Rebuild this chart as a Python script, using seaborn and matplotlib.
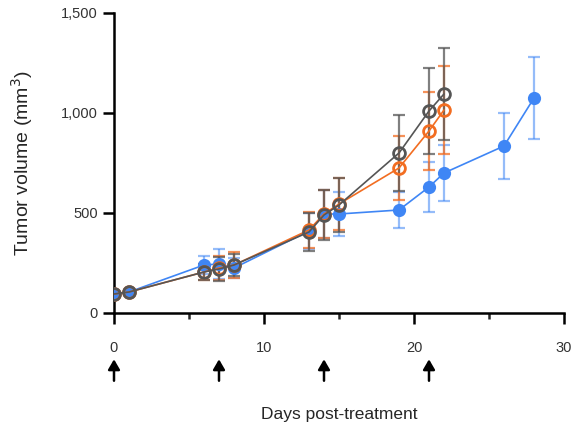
import matplotlib
matplotlib.use("Agg")
import matplotlib.pyplot as plt
import seaborn as sns
import pandas as pd
from matplotlib.ticker import FuncFormatter, MultipleLocator

# ---- data ----
days_blue = [0, 1, 6, 7, 8, 13, 14, 15, 19, 21, 22, 26, 28]
blue_mean = [95, 105, 240, 245, 225, 410, 495, 495, 515, 630, 700, 835, 1075]
blue_err = [10, 10, 45, 75, 50, 90, 120, 110, 90, 125, 140, 165, 205]

days_other = [0, 1, 6, 7, 8, 13, 14, 15, 19, 21, 22]
orange_mean = [95, 105, 205, 225, 240, 415, 495, 545, 725, 910, 1015]
orange_err = [10, 10, 40, 60, 65, 90, 120, 130, 160, 195, 220]
grey_mean = [95, 105, 205, 220, 240, 405, 490, 540, 800, 1010, 1095]
grey_err = [10, 10, 40, 60, 55, 95, 125, 135, 190, 215, 230]

treatment_days = [0, 7, 14, 21]

BLUE = "#3f86f5"
ORANGE = "#f26d21"
GREY = "#555555"

sns.set_style("ticks")
plt.rcParams["font.family"] = ["Liberation Sans", "DejaVu Sans"]

fig = plt.figure(figsize=(5.73, 4.28), dpi=100)
ax = fig.add_axes([114 / 573, (428 - 313) / 428, (564 - 114) / 573, 300 / 428])

series = [
    ("blue", days_blue, blue_mean, blue_err, BLUE, True),
    ("orange", days_other, orange_mean, orange_err, ORANGE, False),
    ("grey", days_other, grey_mean, grey_err, GREY, False),
]

for name, d, m, e, c, filled in series:
    df = pd.DataFrame({"day": d, "vol": m})
    ax.errorbar(d, m, yerr=e, fmt="none", ecolor=c, elinewidth=1.6,
                capsize=4, capthick=1.6, alpha=0.55 if name == "blue" else 0.75,
                zorder=2)
    sns.lineplot(data=df, x="day", y="vol", ax=ax, color=c, lw=1.2,
                 marker="o", markersize=9.5 if filled else 8.5,
                 markerfacecolor=c if filled else "none",
                 markeredgecolor=c, markeredgewidth=0 if filled else 2.0,
                 zorder=3, legend=False)

ax.set_xlim(0, 30)
ax.set_ylim(0, 1500)
ax.xaxis.set_major_locator(MultipleLocator(10))
ax.xaxis.set_minor_locator(MultipleLocator(5))
ax.yaxis.set_major_locator(MultipleLocator(500))
ax.yaxis.set_major_formatter(FuncFormatter(lambda v, p: f"{int(v):,}"))
for s in ["top", "right"]:
    ax.spines[s].set_visible(False)
for s in ["left", "bottom"]:
    ax.spines[s].set_linewidth(1.8)
    ax.spines[s].set_color("black")
ax.tick_params(which="major", length=8, width=1.8, labelsize=10.5,
               colors="black", labelcolor="#333333")
ax.tick_params(which="minor", length=4, width=1.8)
ax.tick_params(axis="x", pad=12)
ax.set_ylabel("Tumor volume (mm$^{3}$)", fontsize=14)
ax.yaxis.set_label_coords(-0.175, 0.5)
ax.set_xlabel("Days post-treatment", fontsize=12.5)
ax.xaxis.set_label_coords(0.5, -0.315)

for t in treatment_days:
    ax.annotate("", xy=(t, -0.145), xycoords=("data", "axes fraction"),
                xytext=(t, -0.235), textcoords=("data", "axes fraction"),
                arrowprops=dict(arrowstyle="-|>,head_width=0.35,head_length=0.6",
                                color="black", lw=1.8),
                annotation_clip=False)

fig.savefig("out.png", dpi=100)
